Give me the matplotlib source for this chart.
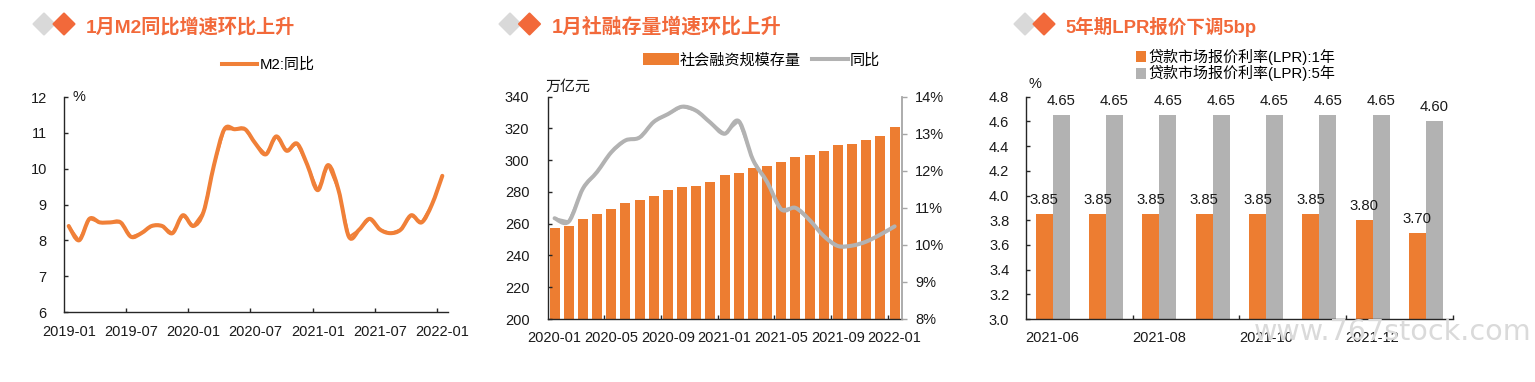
import matplotlib
matplotlib.use("Agg")
import matplotlib.pyplot as plt
import numpy as np
from matplotlib.patches import Polygon, PathPatch
from matplotlib.path import Path
from matplotlib.transforms import IdentityTransform

plt.rcParams['font.family'] = ['Liberation Sans', 'Noto Sans CJK SC']
plt.rcParams['axes.unicode_minus'] = False

W, H = 1535, 382
ORANGE = '#ED7D31'
LINE_ORANGE = '#F08038'
GRAY = '#B2B2B2'
TITLE = '#F2693A'
TXT = '#1a1a1a'
FS = 10.5

# ---- data ----
m2_months = ['2019-01', '2019-07', '2020-01', '2020-07', '2021-01', '2021-07', '2022-01']
m2_values = [8.4, 8.0, 8.6, 8.5, 8.5, 8.5, 8.1, 8.2, 8.4, 8.4, 8.2, 8.7,
             8.4, 8.8, 10.1, 11.1, 11.1, 11.1, 10.7, 10.4, 10.9, 10.5, 10.7, 10.1,
             9.4, 10.1, 9.4, 8.1, 8.3, 8.6, 8.3, 8.2, 8.3, 8.7, 8.5, 9.0, 9.8]
tsf_months = ['2020-01', '2020-05', '2020-09', '2021-01', '2021-05', '2021-09', '2022-01']
tsf_stock = [257.5, 258.3, 263, 266, 269.5, 273, 275, 277.5, 281, 283, 284, 286, 290.5,
             292, 295, 296.5, 299, 302, 303, 306, 309.5, 310.5, 312.5, 315, 321]
tsf_yoy = [10.72, 10.63, 11.52, 11.97, 12.5, 12.82, 12.9, 13.32, 13.53, 13.73, 13.62, 13.3,
           13.0, 13.34, 12.3, 11.7, 10.96, 11.0, 10.67, 10.24, 9.97, 9.98, 10.09, 10.28, 10.5]
lpr_months = ['2021-06', '2021-08', '2021-10', '2021-12']
lpr_1y = [3.85, 3.85, 3.85, 3.85, 3.85, 3.85, 3.80, 3.70]
lpr_5y = [4.65, 4.65, 4.65, 4.65, 4.65, 4.65, 4.65, 4.60]

fig = plt.figure(figsize=(W / 100, H / 100), dpi=100, facecolor='white')


def make_ax(l, r, t, b):
    ax = fig.add_axes([l / W, 1 - b / H, (r - l) / W, (b - t) / H])
    ax.patch.set_alpha(0)
    ax.spines['top'].set_visible(False)
    ax.spines['right'].set_visible(False)
    for s in ('left', 'bottom'):
        ax.spines[s].set_linewidth(1.0)
        ax.spines[s].set_color('#262626')
    return ax


def cat_ticks(ax, centers, labels, bounds, pad):
    ax.set_xticks(centers)
    ax.set_xticklabels(labels, fontsize=FS, color=TXT)
    ax.tick_params(axis='x', which='major', length=0, pad=pad)
    ax.set_xticks(bounds, minor=True)
    ax.tick_params(axis='x', which='minor', direction='in', length=3, width=1, color='#262626')


def smooth(ax, x, y, color, lw):
    x = np.asarray(x, float)
    y = np.asarray(y, float)
    verts = [(x[0], y[0])]
    codes = [Path.MOVETO]
    n = len(x)
    for i in range(n - 1):
        p0 = max(i - 1, 0)
        p3 = min(i + 2, n - 1)
        c1 = (x[i] + (x[i + 1] - x[p0]) / 6, y[i] + (y[i + 1] - y[p0]) / 6)
        c2 = (x[i + 1] - (x[p3] - x[i]) / 6, y[i + 1] - (y[p3] - y[i]) / 6)
        verts += [c1, c2, (x[i + 1], y[i + 1])]
        codes += [Path.CURVE4] * 3
    ax.add_patch(PathPatch(Path(verts, codes), fill=False, edgecolor=color, lw=lw,
                           capstyle='round', joinstyle='round', zorder=4))


def diamonds(cx_gray, cx_orange, cy=24, r=10.5):
    for cx, col in ((cx_gray, '#D9D9D9'), (cx_orange, TITLE)):
        fig.add_artist(Polygon([(cx - r, H - cy), (cx, H - cy + r), (cx + r, H - cy), (cx, H - cy - r)],
                               closed=True, facecolor=col, edgecolor=col, lw=1.5,
                               joinstyle='round', transform=IdentityTransform()))


def fig_text(x, y, s, **kw):
    kw.setdefault('color', TXT)
    kw.setdefault('fontsize', FS)
    kw.setdefault('ha', 'center')
    kw.setdefault('va', 'center')
    fig.text(x / W, 1 - y / H, s, **kw)


# watermark
fig_text(1254, 332, 'www.767stock.com', ha='left', fontsize=20.6, color='#DADADA',
         family=['DejaVu Sans'], zorder=0)

# ---- chart 1 ----
diamonds(44, 64)
fig_text(85.5, 27, '1月M2同比增速环比上升', ha='left', fontsize=13.8, color=TITLE, fontweight='bold')
ax1 = make_ax(63.5, 447.5, 97, 312)
x1 = np.arange(len(m2_values))
ax1.plot(x1, m2_values, color=LINE_ORANGE, lw=1.6, label='M2:同比')
smooth(ax1, x1, m2_values, LINE_ORANGE, 2.9)
ax1.set_xlim(-0.5, len(m2_values) - 0.5)
ax1.set_ylim(6, 12)
ax1.set_yticks(range(6, 13))
ax1.tick_params(axis='y', direction='in', length=3, width=1, pad=12, labelsize=FS, labelcolor=TXT, color='#262626')
cat_ticks(ax1, x1[::6], m2_months, x1[6::6] - 0.5, 9.5)
fig_text(78.7, 97, '%')
leg1 = ax1.legend(loc='center left', bbox_to_anchor=(222 / W, 1 - 65 / H), bbox_transform=fig.transFigure,
                  frameon=False, borderpad=0, borderaxespad=0, handlelength=2.35, handletextpad=0.15,
                  prop={'size': 10.8})
leg1.get_lines()[0].set_linewidth(2.9)

# ---- chart 2 ----
diamonds(510, 529.5)
fig_text(551.5, 27, '1月社融存量增速环比上升', ha='left', fontsize=14.3, color=TITLE, fontweight='bold')
ax2 = make_ax(547.5, 901.7, 96.7, 319)
x2 = np.arange(len(tsf_stock))
ax2.bar(x2, tsf_stock, width=0.7, color=ORANGE, label='社会融资规模存量')
ax2.set_xlim(-0.5, len(tsf_stock) - 0.5)
ax2.set_ylim(200, 340)
ax2.set_yticks(range(200, 341, 20))
ax2.tick_params(axis='y', direction='in', length=3, width=1, pad=13, labelsize=FS, labelcolor=TXT, color='#262626')
cat_ticks(ax2, x2[::4], tsf_months, x2[4::4] - 0.5, 9)
ax2b = ax2.twinx()
ax2b.patch.set_alpha(0)
ax2b.plot(x2, tsf_yoy, color=GRAY, lw=1.6, label='同比')
smooth(ax2b, x2, tsf_yoy, GRAY, 2.9)
ax2b.set_ylim(8, 14)
ax2b.set_yticks(range(8, 15))
ax2b.set_yticklabels([f'{v}%' for v in range(8, 15)])
for s in ('top', 'left', 'bottom'):
    ax2b.spines[s].set_visible(False)
ax2b.spines['right'].set_color('#A6A6A6')
ax2b.spines['right'].set_linewidth(1.3)
ax2b.tick_params(axis='y', direction='out', length=3.5, width=1, pad=6, labelsize=FS, labelcolor=TXT, color='#A6A6A6')
fig_text(567.5, 87, '万亿元', fontsize=10.8)
h2a, l2a = ax2.get_legend_handles_labels()
h2b, l2b = ax2b.get_legend_handles_labels()
leg2 = ax2b.legend(h2a + h2b, l2a + l2b, loc='center left', bbox_to_anchor=(643 / W, 1 - 60.5 / H),
                   bbox_transform=fig.transFigure, frameon=False, ncol=2, borderpad=0, borderaxespad=0,
                   handlelength=2.35, handleheight=0.85, handletextpad=0.1, columnspacing=0.75,
                   prop={'size': 10.9})
leg2.get_lines()[0].set_linewidth(2.9)

# ---- chart 3 ----
diamonds(1025, 1044)
fig_text(1065.5, 27, '5年期LPR报价下调5bp', ha='left', fontsize=13.3, color=TITLE, fontweight='bold')
ax3 = make_ax(1026, 1452.6, 96.7, 319)
x3 = np.arange(len(lpr_1y))
bw = 0.32
b1 = ax3.bar(x3 - bw / 2, lpr_1y, width=bw, color=ORANGE, label='贷款市场报价利率(LPR):1年')
b2 = ax3.bar(x3 + bw / 2, lpr_5y, width=bw, color=GRAY, label='贷款市场报价利率(LPR):5年')
ax3.bar_label(b1, fmt='%.2f', padding=5, fontsize=10.7, color=TXT)
ax3.bar_label(b2, fmt='%.2f', padding=5, fontsize=10.7, color=TXT)
ax3.set_xlim(-0.5, len(lpr_1y) - 0.5)
ax3.set_ylim(3.0, 4.8)
ax3.set_yticks(np.arange(3.0, 4.81, 0.2))
ax3.set_yticklabels([f'{v:.1f}' for v in np.arange(3.0, 4.81, 0.2)])
ax3.tick_params(axis='y', direction='in', length=3, width=1, pad=12, labelsize=FS, labelcolor=TXT, color='#262626')
cat_ticks(ax3, x3[::2], lpr_months, x3[1::2] + 0.5, 9)
fig_text(1035, 84, '%')
ax3.legend(loc='center left', bbox_to_anchor=(1135.8 / W, 1 - 65 / H), bbox_transform=fig.transFigure,
           frameon=False, borderpad=0, borderaxespad=0, handlelength=0.7, handleheight=0.75,
           handletextpad=0.15, labelspacing=0.05, prop={'size': 10.8})

fig.savefig('out.png', dpi=100, facecolor='white')
